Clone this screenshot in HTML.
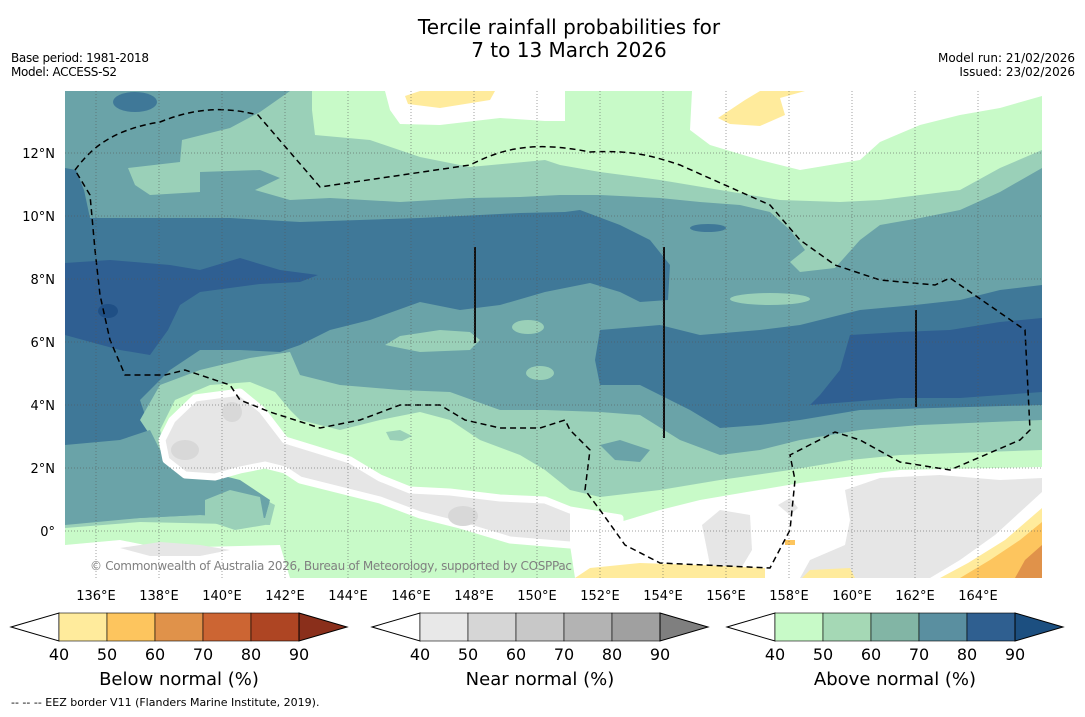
<!DOCTYPE html>
<html><head><meta charset="utf-8"><style>
body{margin:0;background:#fff;width:1085px;height:713px;overflow:hidden;font-family:"DejaVu Sans","Liberation Sans",sans-serif}
</style></head><body>
<svg width="1085" height="713" viewBox="0 0 1085 713" xmlns="http://www.w3.org/2000/svg" font-family="DejaVu Sans, Liberation Sans, sans-serif">
<text x="569" y="34" text-anchor="middle" font-size="20">Tercile rainfall probabilities for</text>
<text x="569" y="57" text-anchor="middle" font-size="20">7 to 13 March 2026</text>
<text x="11" y="62" font-size="12" textLength="138">Base period: 1981-2018</text>
<text x="11" y="76" font-size="12" textLength="106">Model: ACCESS-S2</text>
<text x="1075" y="62" font-size="12" text-anchor="end">Model run: 21/02/2026</text>
<text x="1075" y="76" font-size="12" text-anchor="end">Issued: 23/02/2026</text>
<defs><clipPath id="mc"><rect x="65" y="91" width="977" height="487"/></clipPath></defs>
<g clip-path="url(#mc)">
<rect x="65" y="91" width="977" height="487" fill="#6aa3a8"/>
<!-- top -->
<polygon fill="#9ad0b8" points="290,91 1042,91 1042,168 1000,192 960,210 920,218 880,225 860,240 835,268 800,272 790,262 805,250 790,230 770,212 740,205 700,202 660,198 600,195 560,195 520,197 470,198 400,202 330,198 290,200 255,190 280,178 260,170 200,172 200,192 150,195 135,185 128,168 180,162 182,140 230,128 260,112"/>
<polygon fill="#c8fac8" points="312,91 1042,91 1042,150 1000,168 960,190 920,195 880,200 840,202 780,200 720,190 660,180 600,172 560,165 545,160 470,167 420,157 370,140 315,135 312,110"/>
<polygon fill="#fff" points="385,91 565,91 565,121 545,121 500,118 440,125 400,124 390,110"/>
<polygon fill="#fff" points="692,91 1042,91 1042,96 1000,108 960,115 920,125 880,142 860,160 800,170 760,160 710,145 690,130"/>
<polygon fill="#ffeb9c" points="405,96 420,91 495,91 490,100 440,108 408,104"/>
<polygon fill="#ffeb9c" points="718,118 745,100 760,91 805,91 780,98 785,115 760,126 730,124"/>
<ellipse cx="135" cy="102" rx="22" ry="10" fill="#3f7898"/>
<!-- mid -->
<polygon fill="#3f7898" points="65,168 76,170 84,190 90,218 65,218"/>
<polygon fill="#3f7898" points="65,218 230,218 300,222 420,218 480,215 520,213 565,212 580,210 620,225 650,240 670,265 668,300 640,302 620,292 590,283 545,292 500,305 460,310 420,302 370,320 330,330 300,345 280,352 240,350 200,350 170,370 140,400 150,430 120,445 65,445"/>
<polygon fill="#3f7898" points="600,330 660,325 700,335 760,330 800,325 860,310 915,305 960,300 1000,290 1042,285 1042,405 860,410 800,420 760,425 720,428 690,410 640,385 600,385 595,360"/>
<polygon fill="#2f5f92" points="65,263 110,260 170,265 200,270 240,258 280,270 318,275 300,282 260,284 200,292 180,305 168,330 150,355 120,350 65,335"/>
<polygon fill="#2f5f92" points="850,335 900,332 950,330 1000,322 1042,318 1042,392 960,398 900,398 810,405 820,395 840,370"/>
<ellipse cx="108" cy="311" rx="10" ry="7" fill="#1f4f85"/>
<ellipse cx="770" cy="299" rx="40" ry="6" fill="#9ad0b8"/>
<polygon fill="#9ad0b8" points="385,345 400,336 440,330 470,332 480,340 470,350 420,352"/>
<ellipse cx="528" cy="327" rx="16" ry="7" fill="#9ad0b8"/>
<ellipse cx="540" cy="373" rx="14" ry="7" fill="#9ad0b8"/>
<ellipse cx="708" cy="228" rx="18" ry="4" fill="#3f7898"/>
<!-- bottom -->
<polygon fill="#9ad0b8" points="65,525 140,518 200,515 265,518 270,500 240,480 200,470 160,450 140,420 160,385 200,370 250,358 290,352 300,375 340,385 400,390 450,392 500,410 545,410 600,412 640,415 680,440 720,455 760,450 800,440 860,430 920,425 1042,420 1042,578 65,578"/>
<polygon fill="#6aa3a8" points="600,445 620,440 650,450 640,462 615,460"/>
<polygon fill="#c8fac8" points="65,528 140,522 270,525 275,505 250,492 215,470 170,460 160,430 175,400 210,385 250,382 275,392 290,410 300,420 340,430 380,420 420,412 450,420 480,440 520,455 545,470 570,490 600,497 660,490 720,480 790,470 850,460 900,455 1042,450 1042,578 65,578"/>
<polygon fill="#6aa3a8" points="65,445 120,440 150,430 160,450 200,470 240,480 270,500 265,518 200,515 140,518 65,522"/>
<polygon fill="#9ad0b8" points="205,500 230,490 260,497 265,525 235,530 205,520"/>
<polygon fill="#9ad0b8" points="386,432 400,430 412,436 402,441 390,440"/>
<g>
<polygon fill="#e6e6e6" stroke="#fff" stroke-width="7" stroke-linejoin="round" points="162,440 172,420 195,398 240,392 262,410 285,440 350,460 380,478 410,490 450,492 500,498 545,500 570,510 620,518 620,530 570,545 510,540 460,525 420,515 380,500 340,490 300,480 285,470 265,465 240,470 215,477 185,475 166,460"/>
<ellipse cx="185" cy="450" rx="14" ry="10" fill="#d8d8d8"/>
<ellipse cx="232" cy="412" rx="10" ry="10" fill="#d8d8d8"/>
<ellipse cx="463" cy="516" rx="15" ry="10" fill="#d8d8d8"/>
</g>
<polygon fill="#fff" points="65,545 120,540 160,548 280,545 290,578 65,578"/>
<polygon fill="#e6e6e6" points="120,548 160,542 200,545 230,550 200,556 150,556"/>
<polygon fill="#fff" points="570,512 620,522 660,510 700,500 800,483 900,470 1042,467 1042,578 575,578 570,545"/>
<polygon fill="#e6e6e6" points="702,525 720,510 750,515 752,550 740,570 710,565"/>
<polygon fill="#e6e6e6" points="778,505 790,498 798,508 790,515"/>
<polygon fill="#e6e6e6" points="845,490 880,478 940,475 1000,480 1042,478 1042,500 1000,540 960,565 935,578 800,578 810,560 845,545 850,520"/>
<polygon fill="#fff" points="930,578 960,560 995,535 1042,492 1042,505 1005,542 968,568 945,578"/>
<polygon fill="#ffeb9c" points="575,578 590,568 640,563 700,565 765,568 765,578"/>
<polygon fill="#ffeb9c" points="802,578 810,570 850,568 855,578"/>
<polygon fill="#ffeb9c" points="940,578 968,563 1005,540 1042,508 1042,578"/>
<polygon fill="#fdc55e" points="960,578 990,560 1020,540 1042,522 1042,578"/>
<polygon fill="#e0924a" points="1015,578 1025,560 1042,545 1042,578"/>
<rect x="785" y="540" width="10" height="5" fill="#fdc55e"/>
<!-- EEZ -->
<path d="M75,170 C90,150 110,130 160,122 C190,110 220,105 258,115 L320,187 L470,165 C500,150 530,140 590,152 C630,150 650,155 680,165 L770,205 L800,240 L835,265 L880,280 L935,285 L950,278 L1025,330 L1030,430 L1020,440 L950,470 L900,462 L860,440 L835,432 L790,455 L795,480 L790,530 L770,568 L660,563 L625,545 L600,510 L585,490 L590,450 L570,430 L565,420 L540,428 L500,428 L465,420 L440,405 L400,405 L360,420 L320,428 L270,412 L240,400 L230,385 L185,370 L165,375 L125,375 L110,340 L100,295 L95,250 L90,195 Z" fill="none" stroke="#000" stroke-width="1.5" stroke-dasharray="6,4"/>
<line x1="475" y1="247" x2="475" y2="343" stroke="#111" stroke-width="2"/>
<line x1="664" y1="247" x2="664" y2="438" stroke="#111" stroke-width="2"/>
<line x1="916" y1="310" x2="916" y2="407" stroke="#111" stroke-width="2"/>
<g id="grid" stroke="#555" stroke-width="1" stroke-dasharray="1,2" opacity="0.55"></g>
<text x="90" y="570" font-size="12" fill="#808080" textLength="482">© Commonwealth of Australia 2026, Bureau of Meteorology, supported by COSPPac</text>
</g>
<g id="axes"></g>
<g id="bars"></g>
<text x="11" y="706" font-size="11">--  --  -- EEZ border V11 (Flanders Marine Institute, 2019).</text>
</svg>
<script>
const lonTicks=[136,138,140,142,144,146,148,150,152,154,156,158,160,162,164];
const latTicks=[0,2,4,6,8,10,12];
const levelLabels=[40,50,60,70,80,90];
const belowColors=["#fff","#ffeb9c","#fdc55e","#e0924a","#cc6533","#ae4523","#8a2f1b"];
const nearColors=["#fff","#e8e8e8","#d6d6d6","#c8c8c8","#b3b3b3","#a0a0a0","#7f7f7f"];
const aboveColors=["#fff","#c8fac8","#a5d8b5","#82b5a5","#5a8fa0","#2f5f90","#1c4f80"];
const barTitles=["Below normal (%)","Near normal (%)","Above normal (%)"];
const NS="http://www.w3.org/2000/svg";
const xOf=lon=>64.5+(lon-135)*31.5, yOf=lat=>531-lat*31.5;
const grid=document.getElementById('grid'),axes=document.getElementById('axes');
function mk(t,a,p){const e=document.createElementNS(NS,t);for(const k in a)e.setAttribute(k,a[k]);p.appendChild(e);return e;}
lonTicks.forEach(l=>{
 const g=mk('line',{x1:xOf(l),x2:xOf(l),y1:91,y2:578},grid);
 
 
 const t=mk('text',{x:xOf(l),y:600,'text-anchor':'middle','font-size':13},axes);t.textContent=l+'°E';
 
 
});
latTicks.forEach(l=>{
 const g=mk('line',{x1:65,x2:1042,y1:yOf(l),y2:yOf(l)},grid);
 
 
 const t=mk('text',{x:55,y:yOf(l)+5,'text-anchor':'end','font-size':13},axes);t.textContent=l===0?'0°':l+'°N';
 
 
});
const bars=document.getElementById('bars');
[[11,belowColors],[372,nearColors],[727,aboveColors]].forEach(([x0,cols],i)=>{
 const w=48,y0=613,h=28;
 const g=mk('g',{},bars);
 
 
 mk('polygon',{points:`${x0},${y0+h/2} ${x0+w},${y0} ${x0+w},${y0+h}`,fill:cols[0],stroke:'#000'},g);
 for(let k=1;k<=5;k++) mk('rect',{x:x0+k*w,y:y0,width:w,height:h,fill:cols[k],stroke:'#000','stroke-width':0.6},g);
 mk('polygon',{points:`${x0+6*w},${y0} ${x0+7*w},${y0+h/2} ${x0+6*w},${y0+h}`,fill:cols[6],stroke:'#000'},g);
 levelLabels.forEach((v,k)=>{const t=mk('text',{x:x0+(k+1)*w,y:660,'text-anchor':'middle','font-size':16},g);t.textContent=v;
  
  });
 const tt=mk('text',{x:x0+3.5*w,y:685,'text-anchor':'middle','font-size':18},g);tt.textContent=barTitles[i];
 
 
});
</script>
</body></html>
